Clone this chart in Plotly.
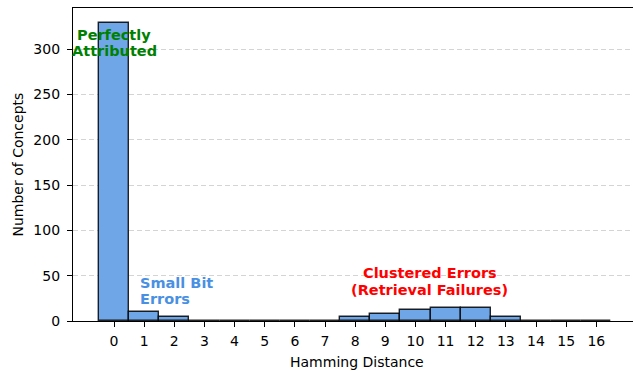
import plotly.graph_objects as go

distances = list(range(17))
counts = [329, 10, 4, 0, 0, 0, 0, 0, 4, 8, 12, 14, 14, 4, 0, 0, 0]
tick_labels = [str(d) for d in distances]
y_ticks = [0, 50, 100, 150, 200, 250, 300]

FONT = "DejaVu Sans"
font = dict(family=FONT, size=14, color="black")

fig = go.Figure()
fig.add_trace(go.Bar(
    x=distances, y=counts, width=1.0,
    marker=dict(color="#6EA6E8", line=dict(color="rgba(0,0,0,0.85)", width=1.4)),
))

fig.update_layout(
    width=640, height=371,
    margin=dict(l=73, r=3, t=8, b=50),
    plot_bgcolor="white", paper_bgcolor="white",
    showlegend=False, font=font, bargap=0,
)
fig.update_xaxes(
    range=[-1.36, 17.35], tickmode="array", tickvals=distances, ticktext=tick_labels,
    ticks="outside", ticklen=5, tickwidth=1.1, tickcolor="black", showgrid=False,
    showline=True, linecolor="black", linewidth=1.2, mirror=True, zeroline=False,
    automargin=False, tickfont=font, ticklabelstandoff=2,
)
fig.update_yaxes(
    range=[0, 345.5], tickmode="array", tickvals=y_ticks,
    ticks="outside", ticklen=5, tickwidth=1.1, tickcolor="black",
    showgrid=True, gridcolor="#d4d4d4", griddash="5px,3px", gridwidth=1,
    showline=True, linecolor="black", linewidth=1.2, mirror=True, zeroline=False,
    automargin=False, tickfont=font, ticklabelstandoff=4,
)

# axis titles
fig.add_annotation(xref="paper", yref="paper", x=0.5, y=0, yshift=-41, xshift=2,
                   text="Hamming Distance", showarrow=False, font=font,
                   xanchor="center", yanchor="middle")
fig.add_annotation(xref="paper", yref="paper", x=0, y=0.5, xshift=-56, textangle=-90,
                   text="Number of Concepts", showarrow=False, font=font,
                   xanchor="center", yanchor="middle")

bold = 14.5
def label(x, y, text, color, xanchor="center"):
    fig.add_annotation(x=x, y=y, text="<b>" + text + "</b>", showarrow=False,
                       xanchor=xanchor, yanchor="middle",
                       font=dict(family=FONT, size=bold, color=color))

label(0, 316, "Perfectly", "green")
label(0, 298, "Attributed", "green")
label(0.8, 42, "Small Bit", "#4A90E2", "left")
label(0.8, 24, "Errors", "#4A90E2", "left")
label(10.48, 52.5, "Clustered Errors", "red")
label(10.48, 34, "(Retrieval Failures)", "red")

post = ("document.documentElement.style.overflow='hidden';"
        "document.body.style.margin='0';"
        "document.body.style.overflow='hidden';")
fig.write_html("out.html", post_script=post, config={"displayModeBar": False})
